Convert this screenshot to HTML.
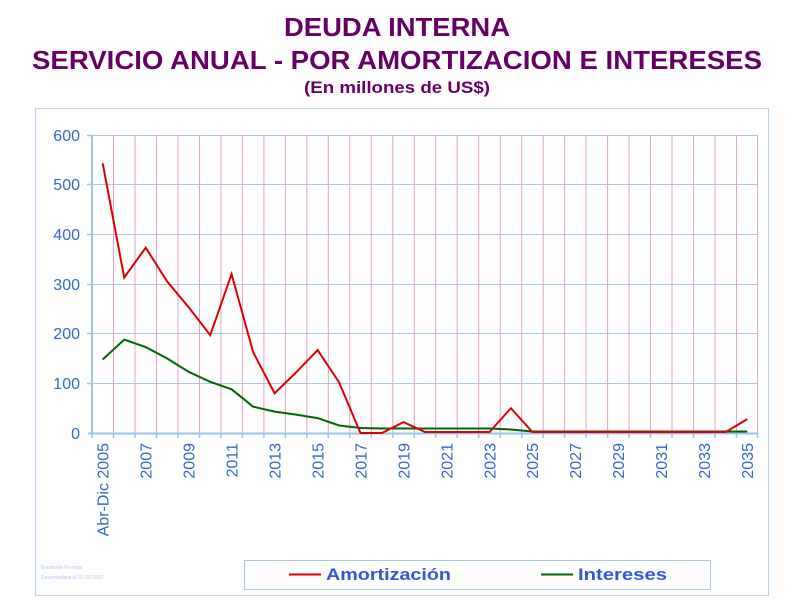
<!DOCTYPE html>
<html><head><meta charset="utf-8"><style>
html,body{margin:0;padding:0;background:#fff;width:800px;height:600px;overflow:hidden}
</style></head><body>
<svg width="800" height="600" xmlns="http://www.w3.org/2000/svg" font-family="Liberation Sans, sans-serif">
<g fill="#660066" font-weight="bold" text-anchor="middle">
<text x="397" y="36" font-size="26" textLength="226" lengthAdjust="spacingAndGlyphs">DEUDA INTERNA</text>
<text x="397" y="69" font-size="26" textLength="730" lengthAdjust="spacingAndGlyphs">SERVICIO ANUAL - POR AMORTIZACION E INTERESES</text>
<text x="397" y="93" font-size="17" textLength="186" lengthAdjust="spacingAndGlyphs">(En millones de US$)</text>
</g>
<rect x="35.5" y="108.5" width="733" height="487" fill="none" stroke="#b8d4ec" stroke-width="1"/>
<!-- horizontal grid -->
<g stroke="#a8c8e8" stroke-width="1">
<line x1="92" x2="758" y1="135.5" y2="135.5"/>
<line x1="92" x2="758" y1="184.5" y2="184.5"/>
<line x1="92" x2="758" y1="234.5" y2="234.5"/>
<line x1="92" x2="758" y1="284.5" y2="284.5"/>
<line x1="92" x2="758" y1="333.5" y2="333.5"/>
<line x1="92" x2="758" y1="383.5" y2="383.5"/>
</g>
<!-- vertical pink grid -->
<g stroke="#e8a0c8" stroke-width="1">
<path d="M113.5 135V433M135 135V433M156.5 135V433M178 135V433M199.5 135V433M220.9 135V433M242.4 135V433M263.9 135V433M285.4 135V433M306.8 135V433M328.3 135V433M349.8 135V433M371.3 135V433M392.8 135V433M414.3 135V433M435.7 135V433M457.2 135V433M478.7 135V433M500.2 135V433M521.7 135V433M543.2 135V433M564.6 135V433M586.1 135V433M607.6 135V433M629.1 135V433M650.5 135V433M672 135V433M693.5 135V433M715 135V433M736.5 135V433M757.5 135V433"/>
</g>
<!-- axes -->
<g stroke="#99c4ee" stroke-width="2">
<line x1="92" x2="92" y1="135" y2="434"/>
<line x1="88" x2="758" y1="433.5" y2="433.5"/>
</g>
<g stroke="#99c4ee" stroke-width="1.5">
<path d="M87 135.5H92M87 184.5H92M87 234.5H92M87 284.5H92M87 333.5H92M87 383.5H92"/>
<path d="M92 433V438M113.5 433V438M135 433V438M156.5 433V438M178 433V438M199.5 433V438M220.9 433V438M242.4 433V438M263.9 433V438M285.4 433V438M306.8 433V438M328.3 433V438M349.8 433V438M371.3 433V438M392.8 433V438M414.3 433V438M435.7 433V438M457.2 433V438M478.7 433V438M500.2 433V438M521.7 433V438M543.2 433V438M564.6 433V438M586.1 433V438M607.6 433V438M629.1 433V438M650.5 433V438M672 433V438M693.5 433V438M715 433V438M736.5 433V438M757.5 433V438"/>
</g>
<!-- y labels -->
<g fill="#3366cc" font-size="16" text-anchor="end">
<text x="80" y="141">600</text>
<text x="80" y="190">500</text>
<text x="80" y="240">400</text>
<text x="80" y="290">300</text>
<text x="80" y="339">200</text>
<text x="80" y="389">100</text>
<text x="80" y="439">0</text>
</g>
<!-- x labels -->
<g fill="#3366cc" font-size="16" text-anchor="end">
<text transform="translate(108.5,443) rotate(-90)">Abr-Dic 2005</text>
<text transform="translate(151.5,443) rotate(-90)">2007</text>
<text transform="translate(194.5,443) rotate(-90)">2009</text>
<text transform="translate(237.4,443) rotate(-90)">2011</text>
<text transform="translate(280.4,443) rotate(-90)">2013</text>
<text transform="translate(323.4,443) rotate(-90)">2015</text>
<text transform="translate(366.3,443) rotate(-90)">2017</text>
<text transform="translate(409.3,443) rotate(-90)">2019</text>
<text transform="translate(452.3,443) rotate(-90)">2021</text>
<text transform="translate(495.3,443) rotate(-90)">2023</text>
<text transform="translate(538.2,443) rotate(-90)">2025</text>
<text transform="translate(581.2,443) rotate(-90)">2027</text>
<text transform="translate(624.2,443) rotate(-90)">2029</text>
<text transform="translate(667.1,443) rotate(-90)">2031</text>
<text transform="translate(710.1,443) rotate(-90)">2033</text>
<text transform="translate(753.1,443) rotate(-90)">2035</text>
</g>
<!-- series -->
<polyline fill="none" stroke="#006600" stroke-width="2" points="102.7,359.5 124.2,339.6 145.7,347.1 167.2,358.5 188.7,371.9 210.2,381.8 231.6,389.3 253.1,406.7 274.6,411.6 296.1,414.6 317.6,418.1 339.1,425.5 360.5,428 382,428.5 403.5,428.5 425,428.5 446.5,428.5 468,428.5 489.5,428.5 510.9,429.5 532.4,431.5 747.3,431.5"/>
<polyline fill="none" stroke="#dd0000" stroke-width="2" points="102.7,163.3 124.2,277.5 145.7,247.7 167.2,281.5 188.7,307.3 210.2,335.2 231.6,274.1 253.1,352 274.6,393.3 296.1,372.4 317.6,350.1 339.1,382.3 360.5,433 382,433 403.5,422.1 425,432 446.5,432 468,432 489.5,432 510.9,408.2 532.4,432 725.8,432 747.3,419.1"/>
<!-- footnote -->
<g fill="#b8c8e8" font-size="5">
<text x="41" y="569">Evolución Prevista</text>
<text x="41" y="579">Desembolsos al 31.03.2005</text>
</g>
<!-- legend -->
<rect x="244.5" y="560.5" width="466" height="29" fill="#fff" stroke="#a8c8e8"/>
<line x1="289" x2="321" y1="574.5" y2="574.5" stroke="#dd0000" stroke-width="2"/>
<line x1="541" x2="573" y1="574.5" y2="574.5" stroke="#006600" stroke-width="2"/>
<g fill="#3355dd" font-size="17" font-weight="bold">
<text x="326" y="580" textLength="125" lengthAdjust="spacingAndGlyphs">Amortización</text>
<text x="578" y="580" textLength="89" lengthAdjust="spacingAndGlyphs">Intereses</text>
</g>
</svg>
</body></html>
